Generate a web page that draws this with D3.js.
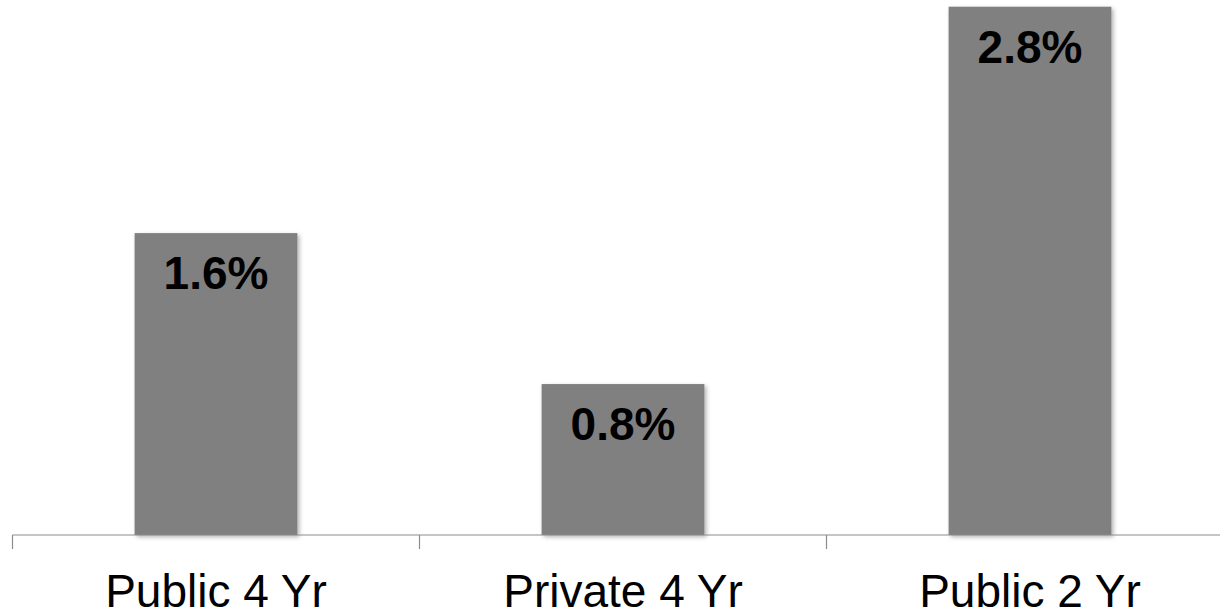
<!DOCTYPE html>
<html>
<head>
<meta charset="utf-8">
<script src="https://cdn.jsdelivr.net/npm/d3@7"></script>
<style>
  html, body { margin: 0; padding: 0; background: #fff; }
  svg { display: block; }
</style>
</head>
<body>
<svg id="chart" width="1220" height="613"></svg>
<script>
// Sector categories and their values (percent)
const categories = ["Public 4 Yr", "Private 4 Yr", "Public 2 Yr"];
const values = [1.6, 0.8, 2.8];
const valueLabels = ["1.6%", "0.8%", "2.8%"];

const svg = d3.select("#chart");
const W = 1220, H = 613;

const baseline = 535;

const x = d3.scaleBand()
  .domain(categories)
  .range([12.5, 1233.5])
  .paddingInner(0.6)
  .paddingOuter(0.3);

const y = d3.scaleLinear()
  .domain([0, 2.8])
  .range([baseline, 6.7]);

// soft shadow under each bar
const defs = svg.append("defs");
const f = defs.append("filter").attr("id", "shadow")
  .attr("x", "-10%").attr("y", "-10%").attr("width", "130%").attr("height", "130%");
f.append("feDropShadow")
  .attr("dx", 2).attr("dy", 2).attr("stdDeviation", 2)
  .attr("flood-color", "#000").attr("flood-opacity", 0.3);

// bars
svg.append("g").selectAll("rect")
  .data(categories)
  .join("rect")
  .attr("x", d => x(d))
  .attr("y", (d, i) => y(values[i]))
  .attr("width", x.bandwidth())
  .attr("height", (d, i) => baseline - y(values[i]))
  .attr("fill", "#808080")
  .attr("filter", "url(#shadow)");

// category axis with ticks at band boundaries
const axisG = svg.append("g").attr("stroke", "#8c8c8c").attr("stroke-width", 1.2).attr("fill", "none");
axisG.append("line")
  .attr("x1", 12.5).attr("x2", W)
  .attr("y1", baseline).attr("y2", baseline);
const step = x.step();
const tickXs = categories.map(c => x(c) - x.paddingOuter() * step);
axisG.selectAll("line.tick")
  .data(tickXs)
  .join("line")
  .attr("class", "tick")
  .attr("x1", d => d).attr("x2", d => d)
  .attr("y1", baseline).attr("y2", baseline + 14);

// category labels
svg.append("g").selectAll("text")
  .data(categories)
  .join("text")
  .attr("x", d => x(d) + x.bandwidth() / 2)
  .attr("y", 607)
  .attr("text-anchor", "middle")
  .attr("font-family", "Liberation Sans, Arial, sans-serif")
  .attr("font-size", 46)
  .attr("fill", "#000")
  .text(d => d);

// value labels inside the bars
svg.append("g").selectAll("text")
  .data(categories)
  .join("text")
  .attr("x", d => x(d) + x.bandwidth() / 2)
  .attr("y", (d, i) => y(values[i]) + 56)
  .attr("text-anchor", "middle")
  .attr("font-family", "Liberation Sans, Arial, sans-serif")
  .attr("font-weight", "bold")
  .attr("font-size", 46)
  .attr("fill", "#000")
  .text((d, i) => valueLabels[i]);
</script>
</body>
</html>
